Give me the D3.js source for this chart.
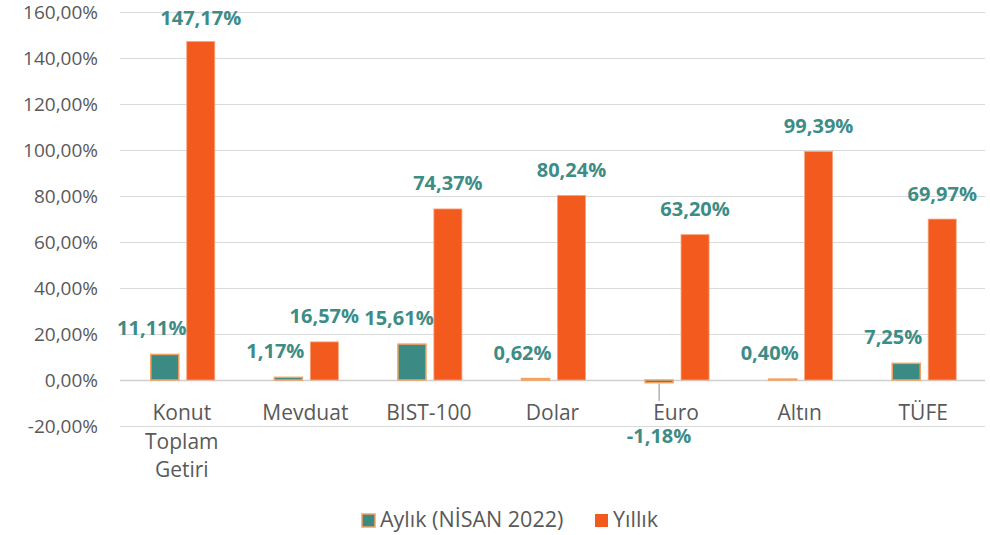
<!DOCTYPE html>
<html>
<head>
<meta charset="utf-8">
<script src="https://cdn.jsdelivr.net/npm/d3@7"></script>
<style>
  body { margin: 0; background: #fff; }
  text { font-family: "Open Sans", "Noto Sans", sans-serif; }
</style>
</head>
<body>
<div id="chart"></div>
<script>
// Data
var categories = ['Konut Toplam Getiri', 'Mevduat', 'BIST-100', 'Dolar', 'Euro', 'Altın', 'TÜFE'];
var aylik = [11.11, 1.17, 15.61, 0.62, -1.18, 0.40, 7.25];
var yillik = [147.17, 16.57, 74.37, 80.24, 63.20, 99.39, 69.97];
var seriesNames = ['Aylık (NİSAN 2022)', 'Yıllık'];
var yTicks = [-20, 0, 20, 40, 60, 80, 100, 120, 140, 160];

var width = 990, height = 535;
var teal = '#3b8a84', orange = '#f35a1e', labelColor = '#3d8c86', axisColor = '#595959';

var svg = d3.select('#chart').append('svg')
    .attr('width', width)
    .attr('height', height);

var fmt = function(v) { return v.toFixed(2).replace('.', ',') + '%'; };

// Scales
var x = d3.scaleBand()
    .domain(categories)
    .range([120, 985]);

var y = d3.scaleLinear()
    .domain([-20, 160])
    .range([426, 12]);

var x1 = d3.scaleBand()
    .domain(['a', 'y'])
    .range([x.bandwidth() / 2 - 31, x.bandwidth() / 2 + 33])
    .paddingInner(0.22);

// Grid
svg.append('g')
    .selectAll('line')
    .data(yTicks)
    .enter()
    .append('line')
    .attr('x1', 120)
    .attr('x2', 985)
    .attr('y1', function(d) { return Math.round(y(d)) + 0.5; })
    .attr('y2', function(d) { return Math.round(y(d)) + 0.5; })
    .attr('stroke', function(d) { return d === 0 ? '#cfcfcf' : '#d9d9d9'; })
    .attr('stroke-width', function(d) { return d === 0 ? 1.5 : 1; });

// Y axis labels
var yAxis = svg.append('g')
    .attr('transform', 'translate(98,0)')
    .call(d3.axisLeft(y).tickValues(yTicks).tickSize(0).tickPadding(0).tickFormat(fmt));
yAxis.select('.domain').remove();
yAxis.selectAll('text')
    .attr('fill', axisColor)
    .attr('font-size', '19px');

// Category labels
var catWords = {'Konut Toplam Getiri': ['Konut', 'Toplam', 'Getiri']};
var cats = svg.append('g');
categories.forEach(function(c) {
    var lines = catWords[c] || [c];
    var t = cats.append('text')
        .attr('x', x(c) + x.bandwidth() / 2)
        .attr('y', 420)
        .attr('text-anchor', 'middle')
        .attr('fill', axisColor)
        .attr('font-size', '21px');
    lines.forEach(function(l, i) {
        t.append('tspan')
            .attr('x', x(c) + x.bandwidth() / 2)
            .attr('dy', i === 0 ? 0 : 28.5)
            .text(l);
    });
});

// Bars
var groups = svg.append('g')
    .selectAll('g')
    .data(categories)
    .enter()
    .append('g')
    .attr('transform', function(d) { return 'translate(' + x(d) + ',0)'; });

groups.append('rect')
    .attr('x', x1('a'))
    .attr('y', function(d, i) { return y(Math.max(0, aylik[i])); })
    .attr('width', x1.bandwidth())
    .attr('height', function(d, i) { return Math.abs(y(aylik[i]) - y(0)); })
    .attr('fill', teal)
    .attr('stroke', '#f4a261')
    .attr('stroke-width', 1.5);

groups.append('rect')
    .attr('x', x1('y'))
    .attr('y', function(d, i) { return y(yillik[i]); })
    .attr('width', x1.bandwidth())
    .attr('height', function(d, i) { return y(0) - y(yillik[i]); })
    .attr('fill', orange)
    .attr('stroke', '#f7a57f')
    .attr('stroke-width', 0.8);

// leader line for negative label
groups.filter(function(d, i) { return aylik[i] < 0; })
    .append('line')
    .attr('x1', x1('a') + x1.bandwidth() / 2)
    .attr('x2', x1('a') + x1.bandwidth() / 2)
    .attr('y1', function(d) { return y(aylik[categories.indexOf(d)]) + 1; })
    .attr('y2', 401)
    .attr('stroke', '#8c8c8c')
    .attr('stroke-width', 1);

// Value labels
groups.append('text')
    .attr('x', function(d, i) { return x1('a') + x1.bandwidth() / 2 - (aylik[i] < 0 ? 0 : 13); })
    .attr('y', function(d, i) {
        return aylik[i] < 0 ? 443 : y(aylik[i]) - 19;
    })
    .attr('text-anchor', 'middle')
    .attr('font-size', '20px')
    .attr('font-weight', 'bold')
    .attr('fill', labelColor)
    .text(function(d, i) { return fmt(aylik[i]); });

groups.append('text')
    .attr('x', function(d, i) { return x1('y') + x1.bandwidth() / 2; })
    .attr('y', function(d, i) { return Math.max(25, y(yillik[i]) - 18.5); })
    .attr('text-anchor', 'middle')
    .attr('font-size', '20px')
    .attr('font-weight', 'bold')
    .attr('fill', labelColor)
    .text(function(d, i) { return fmt(yillik[i]); });

// Legend
var legend = svg.append('g');
legend.append('rect')
    .attr('x', 362).attr('y', 514)
    .attr('width', 13).attr('height', 13)
    .attr('fill', teal)
    .attr('stroke', '#f4a261')
    .attr('stroke-width', 1.5);
legend.append('text')
    .attr('x', 380).attr('y', 527)
    .attr('font-size', '21.5px')
    .attr('fill', axisColor)
    .text(seriesNames[0]);
legend.append('rect')
    .attr('x', 595).attr('y', 514)
    .attr('width', 13).attr('height', 13)
    .attr('fill', orange);
legend.append('text')
    .attr('x', 613).attr('y', 527)
    .attr('font-size', '21.5px')
    .attr('fill', axisColor)
    .text(seriesNames[1]);
</script>
</body>
</html>
